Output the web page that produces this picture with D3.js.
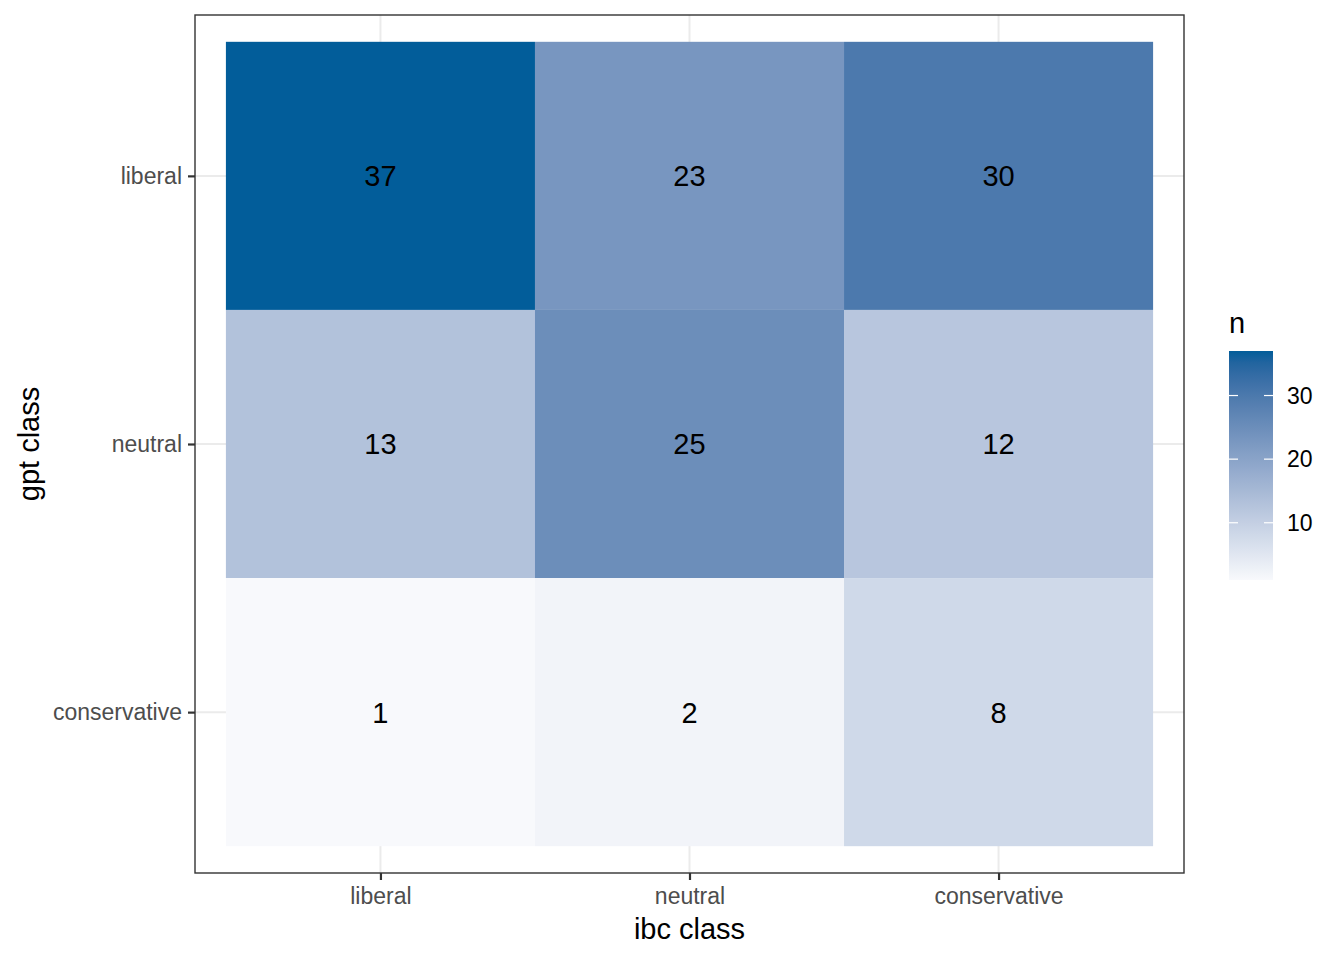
<!DOCTYPE html>
<html>
<head>
<meta charset="utf-8">
<script src="https://cdn.jsdelivr.net/npm/d3@7"></script>
<style>
  html, body { margin: 0; padding: 0; background: #fff; }
  svg { display: block; font-family: "Liberation Sans", Arial, sans-serif; }
</style>
</head>
<body>
<svg id="chart" width="1344" height="960"></svg>
<script>
// Data
const ibcClasses = ["liberal", "neutral", "conservative"];      // x categories
const gptClasses = ["liberal", "neutral", "conservative"];      // y categories (top to bottom)
const countsLiberal = [37, 23, 30];       // gpt = liberal, by ibc class
const countsNeutral = [13, 25, 12];       // gpt = neutral
const countsConservative = [1, 2, 8];     // gpt = conservative
const legendTicks = [10, 20, 30];

const rows = [countsLiberal, countsNeutral, countsConservative];
const cells = [];
gptClasses.forEach((g, i) => ibcClasses.forEach((b, j) => cells.push({ gpt: g, ibc: b, n: rows[i][j] })));

const svg = d3.select("#chart");
const panel = { left: 195, right: 1184, top: 15, bottom: 873 };

// Discrete scales with ggplot-style 0.6 expansion
const xIdx = d3.scaleLinear().domain([0.4, 3.6]).range([panel.left, panel.right]);
const yIdx = d3.scaleLinear().domain([0.4, 3.6]).range([panel.top, panel.bottom]);
const xPos = d => xIdx(ibcClasses.indexOf(d) + 1);
const yPos = d => yIdx(gptClasses.indexOf(d) + 1);

const nExtent = d3.extent(cells, d => d.n);
const color = d3.scaleLinear().domain(nExtent).range(["#f8f9fc", "#025d9a"]).interpolate(d3.interpolateLab);

// Panel background
svg.append("rect").attr("x", panel.left).attr("y", panel.top)
  .attr("width", panel.right - panel.left).attr("height", panel.bottom - panel.top)
  .attr("fill", "#fff");

// Grid lines
const grid = svg.append("g");
ibcClasses.forEach(c => grid.append("line")
  .attr("x1", xPos(c)).attr("x2", xPos(c)).attr("y1", panel.top).attr("y2", panel.bottom)
  .attr("stroke", "#ebebeb").attr("stroke-width", 2));
gptClasses.forEach(c => grid.append("line")
  .attr("y1", yPos(c)).attr("y2", yPos(c)).attr("x1", panel.left).attr("x2", panel.right)
  .attr("stroke", "#ebebeb").attr("stroke-width", 2));

// Tiles
svg.append("g").selectAll("rect").data(cells).join("rect")
  .attr("x", d => xIdx(ibcClasses.indexOf(d.ibc) + 0.5))
  .attr("y", d => yIdx(gptClasses.indexOf(d.gpt) + 0.5))
  .attr("width", xIdx(1) - xIdx(0))
  .attr("height", yIdx(1) - yIdx(0))
  .attr("fill", d => color(d.n));

// Labels
svg.append("g").selectAll("text").data(cells).join("text")
  .attr("x", d => xPos(d.ibc))
  .attr("y", d => yPos(d.gpt))
  .attr("dy", "0.36em")
  .attr("text-anchor", "middle")
  .attr("font-size", 29)
  .attr("fill", "#000")
  .text(d => d.n);

// Panel border
svg.append("rect").attr("x", panel.left).attr("y", panel.top)
  .attr("width", panel.right - panel.left).attr("height", panel.bottom - panel.top)
  .attr("fill", "none").attr("stroke", "#333").attr("stroke-width", 1.4);

// Axes
const xAxisScale = d3.scalePoint().domain(ibcClasses).range([xIdx(1), xIdx(3)]);
const yAxisScale = d3.scalePoint().domain(gptClasses).range([yIdx(1), yIdx(3)]);

const xAxis = svg.append("g").attr("transform", `translate(0,${panel.bottom})`)
  .call(d3.axisBottom(xAxisScale).tickSize(7).tickPadding(8));
const yAxis = svg.append("g").attr("transform", `translate(${panel.left},0)`)
  .call(d3.axisLeft(yAxisScale).tickSize(7).tickPadding(6));
[xAxis, yAxis].forEach(a => {
  a.select(".domain").remove();
  a.selectAll(".tick line").attr("stroke", "#333").attr("stroke-width", 2.2);
  a.selectAll(".tick text").attr("fill", "#4d4d4d").attr("font-size", 23)
    .attr("font-family", "Liberation Sans, Arial, sans-serif");
});

// Axis titles
svg.append("text").attr("x", (panel.left + panel.right) / 2).attr("y", 939)
  .attr("text-anchor", "middle").attr("font-size", 29).attr("fill", "#000").text("ibc class");
svg.append("text").attr("transform", `translate(39,${(panel.top + panel.bottom) / 2}) rotate(-90)`)
  .attr("text-anchor", "middle").attr("font-size", 29).attr("fill", "#000").text("gpt class");

// Legend
const lg = { x: 1229, w: 44, top: 351, bottom: 580 };
const lscale = d3.scaleLinear().domain(nExtent).range([lg.bottom, lg.top]);
const defs = svg.append("defs");
const grad = defs.append("linearGradient").attr("id", "lg").attr("x1", 0).attr("x2", 0).attr("y1", 1).attr("y2", 0);
d3.range(0, 1.0001, 0.05).forEach(t => {
  grad.append("stop").attr("offset", t).attr("stop-color", color(nExtent[0] + t * (nExtent[1] - nExtent[0])));
});
svg.append("rect").attr("x", lg.x).attr("y", lg.top).attr("width", lg.w).attr("height", lg.bottom - lg.top)
  .attr("fill", "url(#lg)");
legendTicks.forEach(v => {
  const y = lscale(v);
  svg.append("line").attr("x1", lg.x).attr("x2", lg.x + 9).attr("y1", y).attr("y2", y)
    .attr("stroke", "#fff").attr("stroke-width", 1.2);
  svg.append("line").attr("x1", lg.x + lg.w - 9).attr("x2", lg.x + lg.w).attr("y1", y).attr("y2", y)
    .attr("stroke", "#fff").attr("stroke-width", 1.2);
  svg.append("text").attr("x", lg.x + lg.w + 14).attr("y", y).attr("dy", "0.36em")
    .attr("font-size", 23).attr("fill", "#000").text(v);
});
svg.append("text").attr("x", lg.x).attr("y", 333).attr("font-size", 29).attr("fill", "#000").text("n");
</script>
</body>
</html>
